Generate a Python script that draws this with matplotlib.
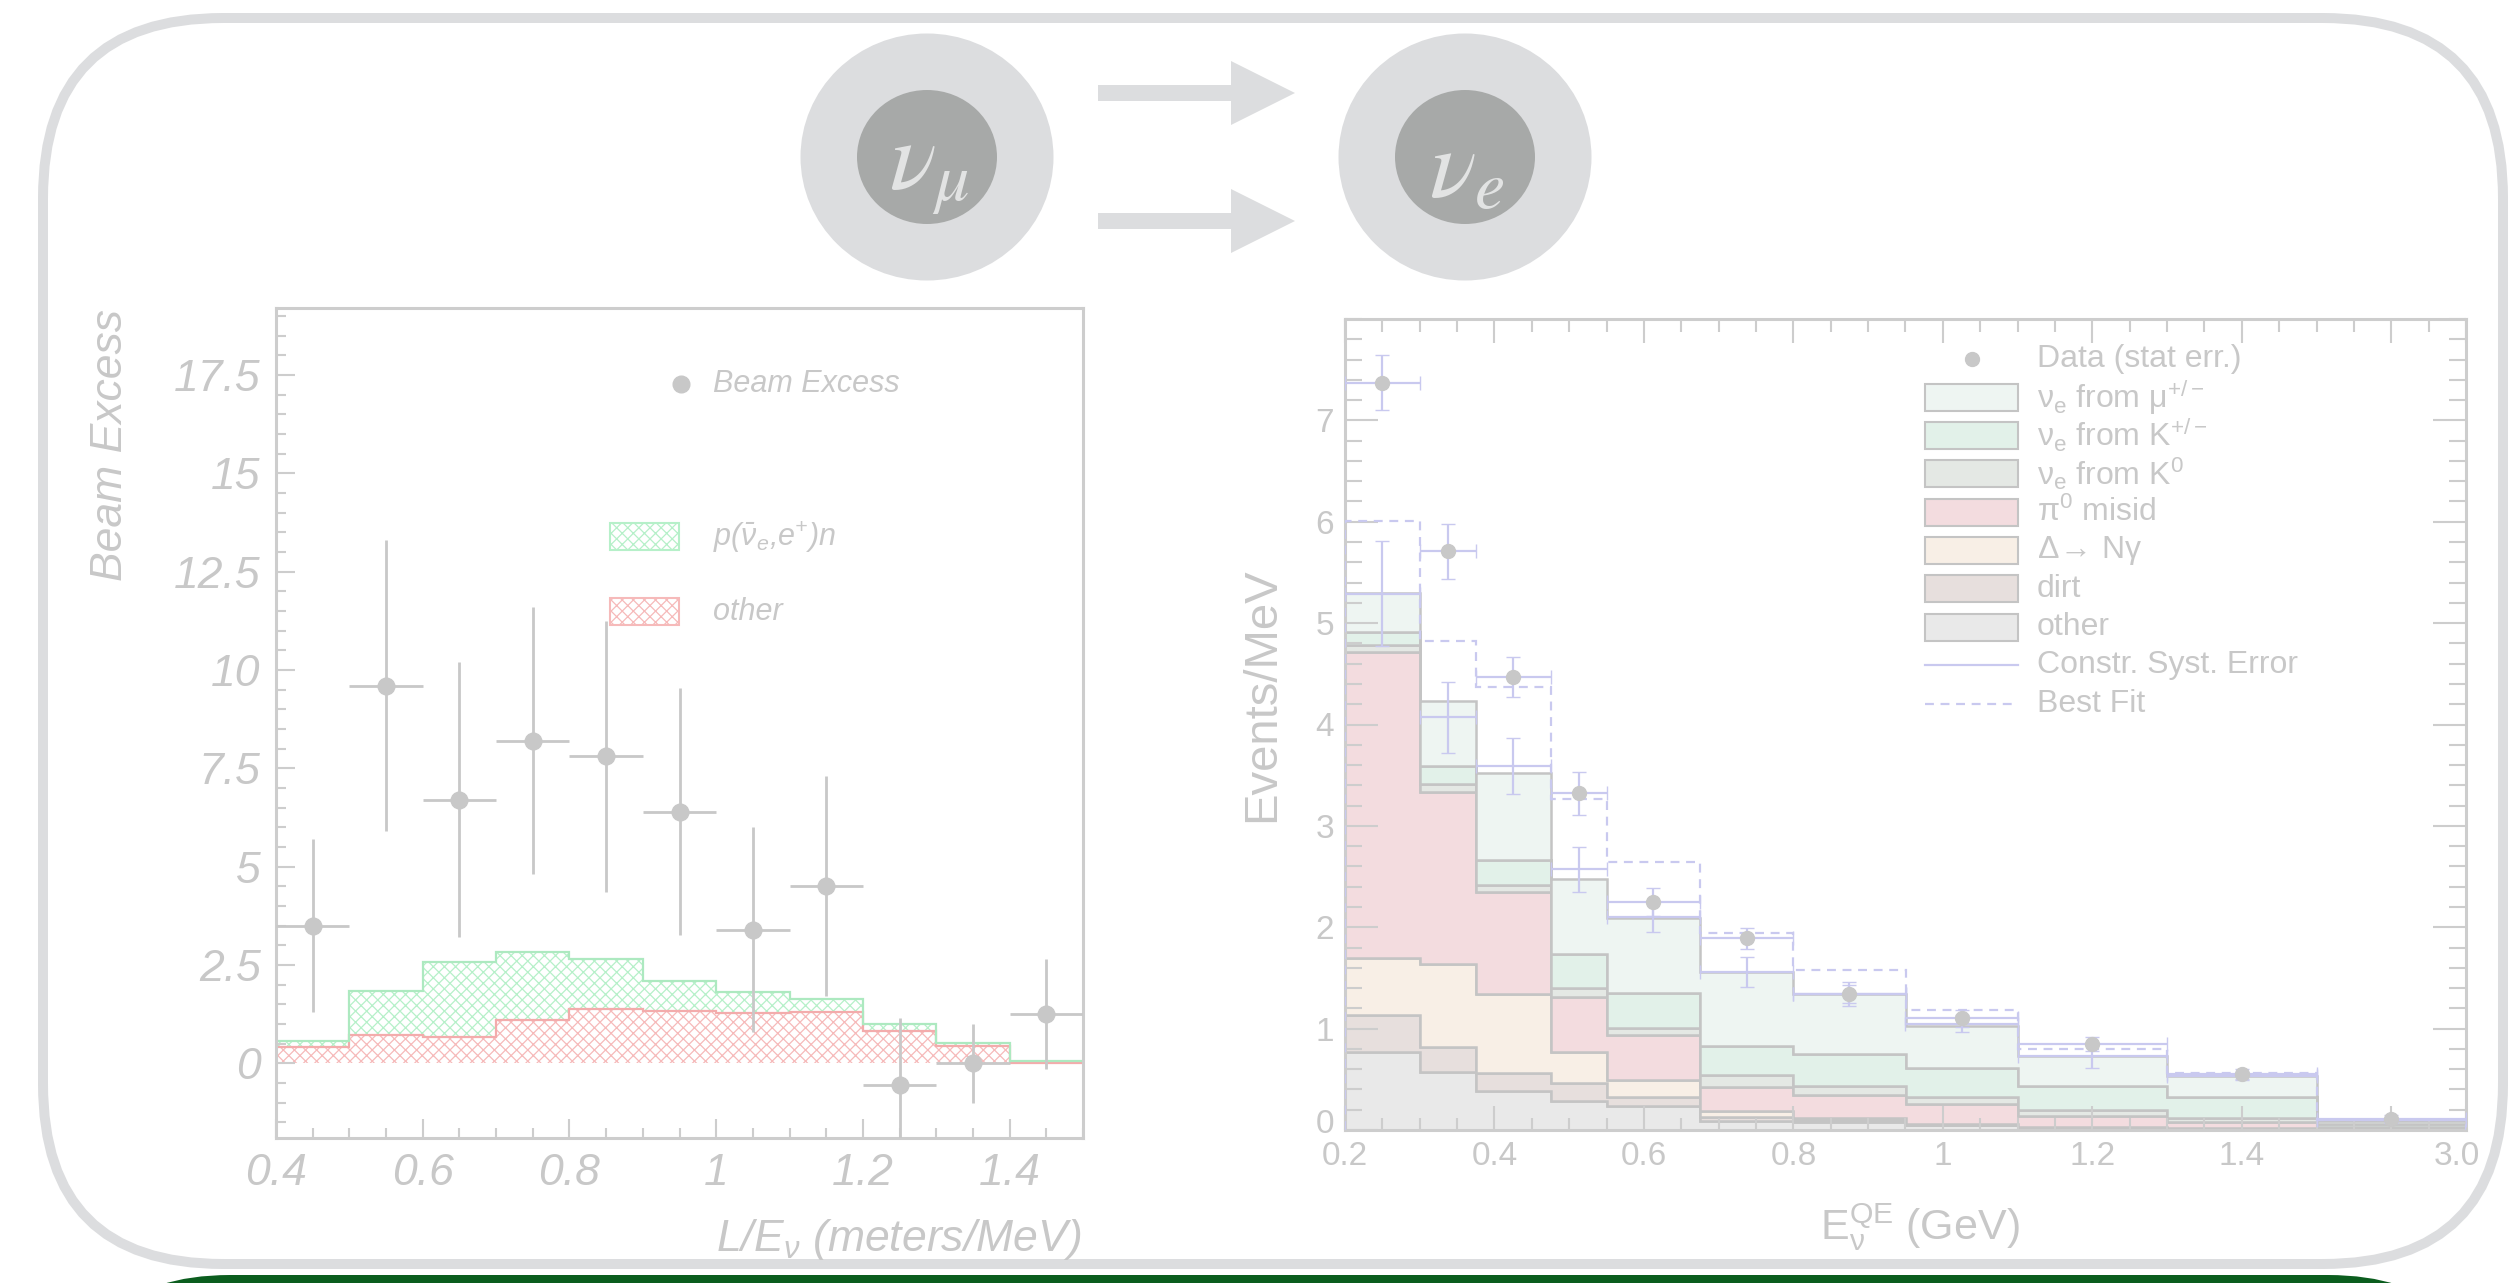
import numpy as np
import matplotlib.pyplot as plt
from matplotlib.patches import Ellipse, FancyBboxPatch, Polygon, Rectangle
from matplotlib.transforms import ScaledTranslation

plt.rcParams['font.family'] = ['Liberation Sans', 'DejaVu Sans']
plt.rcParams['mathtext.default'] = 'regular'
plt.rcParams['hatch.linewidth'] = 0.9

W, H = 2510, 1283

# ---- left panel: beam excess vs L/E ----
le_edges = [0.4, 0.5, 0.6, 0.7, 0.8, 0.9, 1.0, 1.1, 1.2, 1.3, 1.4, 1.5]
excess = [3.5, 9.6, 6.7, 8.2, 7.8, 6.4, 3.4, 4.5, -0.55, 0.0, 1.25]
excess_err = [2.2, 3.7, 3.5, 3.4, 3.45, 3.15, 2.6, 2.8, 1.7, 1.0, 1.4]
other_bkg = [0.41, 0.73, 0.68, 1.09, 1.38, 1.32, 1.28, 1.30, 0.81, 0.43, 0.0]
nuebar_p = [0.15, 1.11, 1.89, 1.73, 1.27, 0.78, 0.52, 0.33, 0.19, 0.09, 0.05]
le_ticks = [0.4, 0.6, 0.8, 1.0, 1.2, 1.4]
le_ticklabels = ['0.4', '0.6', '0.8', '1', '1.2', '1.4']
be_ticks = [0, 2.5, 5, 7.5, 10, 12.5, 15, 17.5]
be_ticklabels = ['0', '2.5', '5', '7.5', '10', '12.5', '15', '17.5']

# ---- right panel: events/MeV vs reconstructed energy ----
eqe_edges = [0.2, 0.3, 0.375, 0.475, 0.55, 0.675, 0.8, 0.95, 1.1, 1.3, 1.5, 3.0]
data_rate = [7.37, 5.71, 4.47, 3.32, 2.25, 1.89, 1.34, 1.10, 0.85, 0.55, 0.11]
data_err = [0.27, 0.27, 0.20, 0.21, 0.14, 0.10, 0.09, 0.08, 0.07, 0.05, 0.04]
bkg_other = [0.77, 0.57, 0.38, 0.29, 0.24, 0.09, 0.08, 0.045, 0.02, 0.01, 0.01]
bkg_dirt = [0.36, 0.25, 0.18, 0.17, 0.09, 0.04, 0.02, 0.005, 0.005, 0.005, 0.002]
bkg_delta = [0.57, 0.82, 0.78, 0.31, 0.16, 0.06, 0.02, 0.01, 0.005, 0.005, 0.002]
bkg_pi0 = [3.02, 1.69, 1.01, 0.54, 0.45, 0.23, 0.23, 0.20, 0.11, 0.06, 0.006]
bkg_k0 = [0.06, 0.08, 0.07, 0.09, 0.07, 0.12, 0.08, 0.07, 0.06, 0.04, 0.01]
bkg_kpm = [0.13, 0.18, 0.24, 0.34, 0.34, 0.29, 0.32, 0.28, 0.23, 0.21, 0.03]
bkg_mupm = [0.39, 0.64, 0.86, 0.74, 0.74, 0.73, 0.59, 0.42, 0.30, 0.20, 0.03]
syst_val = [5.29, 4.07, 3.59, 2.57, 2.10, 1.56, 1.34, 1.05, 0.73, 0.53, 0.10]
syst_err = [0.52, 0.35, 0.28, 0.22, 0.15, 0.15, 0.12, 0.08, 0.12, 0.04, 0.02]
best_fit = [6.01, 4.82, 4.37, 3.27, 2.64, 1.94, 1.58, 1.18, 0.80, 0.56, 0.10]
eqe_ticks = [0.2, 0.4, 0.6, 0.8, 1.0, 1.2, 1.4, 2.25, 3.0]
eqe_ticklabels = ['0.2', '0.4', '0.6', '0.8', '1', '1.2', '1.4', '', '3.0']

stack_names = ['other', 'dirt', r'$\Delta\!\rightarrow\!$ N$\gamma$', r'$\pi^0$ misid',
               r'$\nu_e$ from K$^0$', r'$\nu_e$ from K$^{+/-}$', r'$\nu_e$ from $\mu^{+/-}$']
stack_vals = [bkg_other, bkg_dirt, bkg_delta, bkg_pi0, bkg_k0, bkg_kpm, bkg_mupm]
stack_cols = ['#e9e9e9', '#e7dfdd', '#f8efe6', '#f3dcdf', '#e4e8e4', '#e2f1e9', '#eef5f2']

FAINT = '#c8c8c8'
SPINE = '#cdcdcd'
LAV = '#c9c9ef'
PALE = '#dcdddf'
HATCH_G = '#b6f0c9'
HATCH_R = '#f6baba'

fig = plt.figure(figsize=(W / 100, H / 100), dpi=100)


def px_axes(x0, y0, x1, y1, **kw):
    return fig.add_axes([x0 / W, 1 - y1 / H, (x1 - x0) / W, (y1 - y0) / H], **kw)


def nudge(label, dx, dy):
    # shift a tick label by a few pixels
    label.set_transform(label.get_transform()
                        + ScaledTranslation(dx / 100, dy / 100, fig.dpi_scale_trans))


# slide background: rounded frame, bottom bar, oscillation sketch
bg = px_axes(0, 0, W, H)
bg.set_xlim(0, W)
bg.set_ylim(H, 0)
bg.axis('off')
bg.add_patch(FancyBboxPatch((43, 18), 2460, 1246,
                            boxstyle='round,pad=0,rounding_size=180',
                            fill=False, ec=PALE, lw=7.2))
bg.add_patch(FancyBboxPatch((70, 1275), 2418, 300,
                            boxstyle='round,pad=0,rounding_size=160',
                            fc='#0b5d1e', ec='none'))
for cx, sub in [(927, r'\mu'), (1465, 'e')]:
    bg.add_patch(Ellipse((cx, 157), 253, 247, fc=PALE, ec='none'))
    bg.add_patch(Ellipse((cx, 157), 140, 134, fc='#a7a9a8', ec='none'))
    bg.text(cx + 2, 172, r'$\mathit{\nu_{%s}}$' % sub, math_fontfamily='stix',
            fontsize=70, color='#e2e3e3', ha='center', va='center')
for yc in (93, 221):
    bg.add_patch(Polygon([(1098, yc - 8), (1231, yc - 8), (1231, yc - 32),
                          (1295, yc), (1231, yc + 32), (1231, yc + 8),
                          (1098, yc + 8)], closed=True, fc=PALE, ec='none'))

# ---------------- left panel ----------------
axL = px_axes(276, 308, 1083, 1138, facecolor='none')
red_top = np.array(other_bkg)
green_top = red_top + np.array(nuebar_p)
axL.stairs(red_top, le_edges, baseline=0, fill=True, facecolor='none',
           edgecolor=HATCH_R, hatch='xxx', lw=0)
axL.stairs(green_top, le_edges, baseline=red_top, fill=True, facecolor='none',
           edgecolor=HATCH_G, hatch='xxx', lw=0)
axL.stairs(red_top, le_edges, baseline=None, color='#f3acac', lw=1.6)
axL.stairs(green_top, le_edges, baseline=None, color='#ade9c0', lw=1.6)
le_centers = (np.array(le_edges[:-1]) + np.array(le_edges[1:])) / 2
axL.errorbar(le_centers, excess, xerr=0.05, yerr=excess_err, fmt='o',
             color=FAINT, ms=12, lw=2.0, capsize=0, zorder=5)
axL.set_xlim(0.4, 1.5)
axL.set_ylim(-1.9, 19.2)
axL.set_xticks(le_ticks, le_ticklabels)
axL.set_yticks(be_ticks, be_ticklabels)
axL.xaxis.set_minor_locator(plt.MultipleLocator(0.05))
axL.yaxis.set_minor_locator(plt.MultipleLocator(0.5))
axL.tick_params(which='both', direction='in', colors=SPINE, labelcolor=FAINT,
                labelsize=32, top=False, right=False, pad=11, width=1.5)
axL.tick_params(which='major', length=14)
axL.tick_params(which='minor', length=7)
for lbl in axL.get_xticklabels() + axL.get_yticklabels():
    lbl.set_fontstyle('italic')
for sp in axL.spines.values():
    sp.set_color(SPINE)
    sp.set_linewidth(2.2)
bg.text(110, 309, 'Beam Excess', rotation=90, ha='center', va='top',
        fontsize=32, style='italic', color=FAINT)
bg.text(1081, 1240, r'L/E$_\nu$ (meters/MeV)', ha='right', va='center',
        fontsize=32, style='italic', color=FAINT)

# overlay for the legends
ov = px_axes(0, 0, W, H, facecolor='none', zorder=10)
ov.set_xlim(0, W)
ov.set_ylim(H, 0)
ov.axis('off')
ov.plot([681], [384], 'o', color=FAINT, ms=12)
ov.text(713, 384, 'Beam Excess', fontsize=22, style='italic', color=FAINT, va='center')
ov.add_patch(Rectangle((610, 523), 69, 27, fc='none', ec=HATCH_G, hatch='xxx', lw=1.5))
ov.text(713, 537, r'p($\bar{\nu}_e$,e$^{+}$)n', fontsize=22, style='italic',
        color=FAINT, va='center')
ov.add_patch(Rectangle((610, 598), 69, 27, fc='none', ec=HATCH_R, hatch='xxx', lw=1.5))
ov.text(713, 612, 'other', fontsize=22, style='italic', color=FAINT, va='center')

# ---------------- right panel ----------------
axR = px_axes(1345, 319, 2466, 1130, facecolor='none')


def squeeze(x):
    x = np.asarray(x, float)
    return np.where(x <= 1.5, x, 1.5 + (x - 1.5) * 0.2 / 1.5)


def unsqueeze(p):
    p = np.asarray(p, float)
    return np.where(p <= 1.5, p, 1.5 + (p - 1.5) * 1.5 / 0.2)


axR.set_xscale('function', functions=(squeeze, unsqueeze))
edges = np.array(eqe_edges)
centers = (edges[:-1] + edges[1:]) / 2
half = (edges[1:] - edges[:-1]) / 2

tops = np.cumsum(stack_vals, axis=0)
bottoms = np.vstack([np.zeros(len(centers)), tops[:-1]])
for top, bot, col in zip(tops, bottoms, stack_cols):
    axR.stairs(top, edges, baseline=bot, fill=True, facecolor=col,
               edgecolor='#c4c4c4', lw=1.8, zorder=1)
axR.stairs(best_fit, edges, baseline=0, color=LAV, lw=1.6,
           ls=(0, (4, 3)), zorder=3)
axR.errorbar(centers, syst_val, xerr=half, yerr=syst_err, fmt='none',
             ecolor=LAV, lw=1.6, capsize=5, zorder=4)
axR.errorbar(centers, data_rate, xerr=half, yerr=data_err, fmt='o',
             color=FAINT, ecolor=LAV, ms=10, lw=1.6, capsize=5, zorder=5)

axR.set_xlim(0.2, 3.0)
axR.set_ylim(0, 8)
axR.set_xticks(eqe_ticks, eqe_ticklabels)
axR.set_xticks(unsqueeze(np.arange(0.2, 1.7001, 0.05)), minor=True)
axR.set_yticks(range(8))
axR.yaxis.set_minor_locator(plt.MultipleLocator(0.2))
axR.tick_params(which='both', direction='in', colors=SPINE, labelcolor=FAINT,
                labelsize=24, top=True, right=True, width=1.5, pad=8)
axR.tick_params(axis='x', which='major', length=17)
axR.tick_params(axis='x', which='minor', length=9)
axR.tick_params(axis='y', which='major', length=24)
axR.tick_params(axis='y', which='minor', length=12)
nudge(axR.yaxis.get_major_ticks()[0].label1, 0, 9)
nudge(axR.xaxis.get_major_ticks()[-1].label1, -9, 0)
for sp in axR.spines.values():
    sp.set_color(SPINE)
    sp.set_linewidth(2.2)
bg.text(1262, 695, 'Events/MeV', rotation=90, ha='center', va='center',
        fontsize=34, color=FAINT)
bg.text(1920, 1227, r'E$_\nu^{QE}$ (GeV)', ha='center', va='center',
        fontsize=31, color=FAINT)

# right legend
rows = [359 + 38.3 * i for i in range(10)]
ov.plot([1972], [rows[0]], 'o', color=FAINT, ms=10)
ov.text(2037, rows[0], 'Data (stat err.)', fontsize=23, color=FAINT, va='center')
for y, name, col in zip(rows[1:8], stack_names[::-1], stack_cols[::-1]):
    ov.add_patch(Rectangle((1925, y - 13.5), 93, 27, fc=col, ec='#c4c4c4', lw=1.5))
    ov.text(2037, y, name, fontsize=23, color=FAINT, va='center')
ov.plot([1925, 2018], [rows[8]] * 2, color=LAV, lw=1.6)
ov.text(2037, rows[8], 'Constr. Syst. Error', fontsize=23, color=FAINT, va='center')
ov.plot([1925, 2018], [rows[9]] * 2, color=LAV, lw=1.6, ls=(0, (4, 3)))
ov.text(2037, rows[9], 'Best Fit', fontsize=23, color=FAINT, va='center')

fig.savefig('out.png', dpi=100)
